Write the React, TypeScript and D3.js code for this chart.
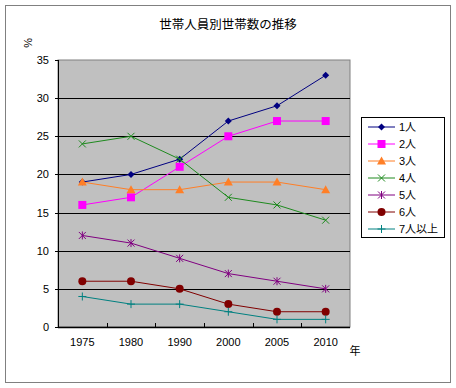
import React from "react";
import * as d3 from "d3";

const years = ["1975", "1980", "1990", "2000", "2005", "2010"];
const seriesNames = ["1人", "2人", "3人", "4人", "5人", "6人", "7人以上"];
const one = [19, 20, 22, 27, 29, 33];
const two = [16, 17, 21, 25, 27, 27];
const three = [19, 18, 18, 19, 19, 18];
const four = [24, 25, 22, 17, 16, 14];
const five = [12, 11, 9, 7, 6, 5];
const six = [6, 6, 5, 3, 2, 2];
const sevenPlus = [4, 3, 3, 2, 1, 1];
const yTicks = [0, 5, 10, 15, 20, 25, 30, 35];

const colors = ["#000080", "#ff00ff", "#ff7f27", "#1e8a1e", "#800080", "#800000", "#008080"];
const markers = ["diamond", "square", "triangle", "x", "star", "circle", "plus"];
const values = [one, two, three, four, five, six, sevenPlus];

const font = "'Liberation Sans', 'Noto Sans CJK JP', sans-serif";

function Marker({ kind, x, y, color }: { kind: string; x: number; y: number; color: string }) {
  const s = 3.5;
  switch (kind) {
    case "diamond":
      return <path d={`M${x},${y - s}L${x + s},${y}L${x},${y + s}L${x - s},${y}Z`} fill={color} />;
    case "square":
      return <rect x={x - 4} y={y - 4} width={8} height={8} fill={color} />;
    case "triangle":
      return <path d={`M${x},${y - 4.5}L${x + 4.5},${y + 3.5}L${x - 4.5},${y + 3.5}Z`} fill={color} />;
    case "x":
      return <path d={`M${x - s},${y - s}L${x + s},${y + s}M${x + s},${y - s}L${x - s},${y + s}`} stroke={color} strokeWidth={1} />;
    case "star":
      return (
        <path
          d={`M${x - s},${y - s}L${x + s},${y + s}M${x + s},${y - s}L${x - s},${y + s}M${x},${y - 4}L${x},${y + 4}`}
          stroke={color}
          strokeWidth={1}
        />
      );
    case "circle":
      return <circle cx={x} cy={y} r={4} fill={color} />;
    default:
      return <path d={`M${x - 4},${y}L${x + 4},${y}M${x},${y - 4}L${x},${y + 4}`} stroke={color} strokeWidth={1} />;
  }
}

export default function App() {
  const left = 58, right = 350, top = 60, bottom = 327;
  const x = d3.scaleBand().domain(years).range([left, right]);
  const y = d3.scaleLinear().domain([0, 35]).range([bottom, top]);
  const line = d3
    .line<number>()
    .x((_, i) => (x(years[i]) as number) + x.bandwidth() / 2)
    .y((d) => y(d));

  const legendTop = 127;
  const legendStep = 17;

  return (
    <svg width={456} height={388} style={{ position: "absolute", left: 0, top: 0 }} fontFamily={font}>
      <rect x={0} y={0} width={456} height={388} fill="#fff" />
      <rect x={5.5} y={5.5} width={445} height={377} fill="#fff" stroke="#808080" />
      <text x={228} y={29} textAnchor="middle" fontSize={12.5}>
        世帯人員別世帯数の推移
      </text>
      <text transform="translate(24,43) rotate(90)" textAnchor="middle" fontSize={11}>
        %
      </text>

      <rect x={left} y={top} width={right - left} height={bottom - top} fill="#c0c0c0" stroke="#808080" />
      {yTicks.slice(1, -1).map((t) => (
        <line key={t} x1={left} x2={right} y1={Math.round(y(t)) + 0.5} y2={Math.round(y(t)) + 0.5} stroke="#000" />
      ))}
      <line x1={left + 0.5} x2={left + 0.5} y1={top} y2={bottom} stroke="#000" />
      <line x1={left} x2={right} y1={bottom + 0.5} y2={bottom + 0.5} stroke="#000" strokeWidth={1.5} />
      {yTicks.map((t) => (
        <g key={t}>
          <line x1={left - 3} x2={left} y1={Math.round(y(t)) + 0.5} y2={Math.round(y(t)) + 0.5} stroke="#000" />
          <text x={49} y={y(t) + 4} textAnchor="end" fontSize={11}>
            {t}
          </text>
        </g>
      ))}
      {years.map((yr, i) => (
        <g key={yr}>
          {i > 0 && (
            <line
              x1={Math.round(x(yr) as number) + 0.5}
              x2={Math.round(x(yr) as number) + 0.5}
              y1={bottom - 4}
              y2={bottom}
              stroke="#000"
            />
          )}
          <text x={(x(yr) as number) + x.bandwidth() / 2} y={346} textAnchor="middle" fontSize={11}>
            {yr}
          </text>
        </g>
      ))}
      <text x={355} y={355} textAnchor="middle" fontSize={11}>
        年
      </text>

      {values.map((vals, si) => (
        <g key={seriesNames[si]}>
          <path d={line(vals) || ""} fill="none" stroke={colors[si]} strokeWidth={1} />
          {vals.map((v, i) => (
            <Marker
              key={i}
              kind={markers[si]}
              x={(x(years[i]) as number) + x.bandwidth() / 2}
              y={y(v)}
              color={colors[si]}
            />
          ))}
        </g>
      ))}

      <rect x={361.5} y={117.5} width={83} height={120} fill="#fff" stroke="#000" />
      {seriesNames.map((name, si) => {
        const ly = legendTop + si * legendStep;
        return (
          <g key={name}>
            <line x1={368} x2={395} y1={ly} y2={ly} stroke={colors[si]} />
            <Marker kind={markers[si]} x={381.5} y={ly} color={colors[si]} />
            <text x={399} y={ly + 4} fontSize={11}>
              {name}
            </text>
          </g>
        );
      })}
    </svg>
  );
}
